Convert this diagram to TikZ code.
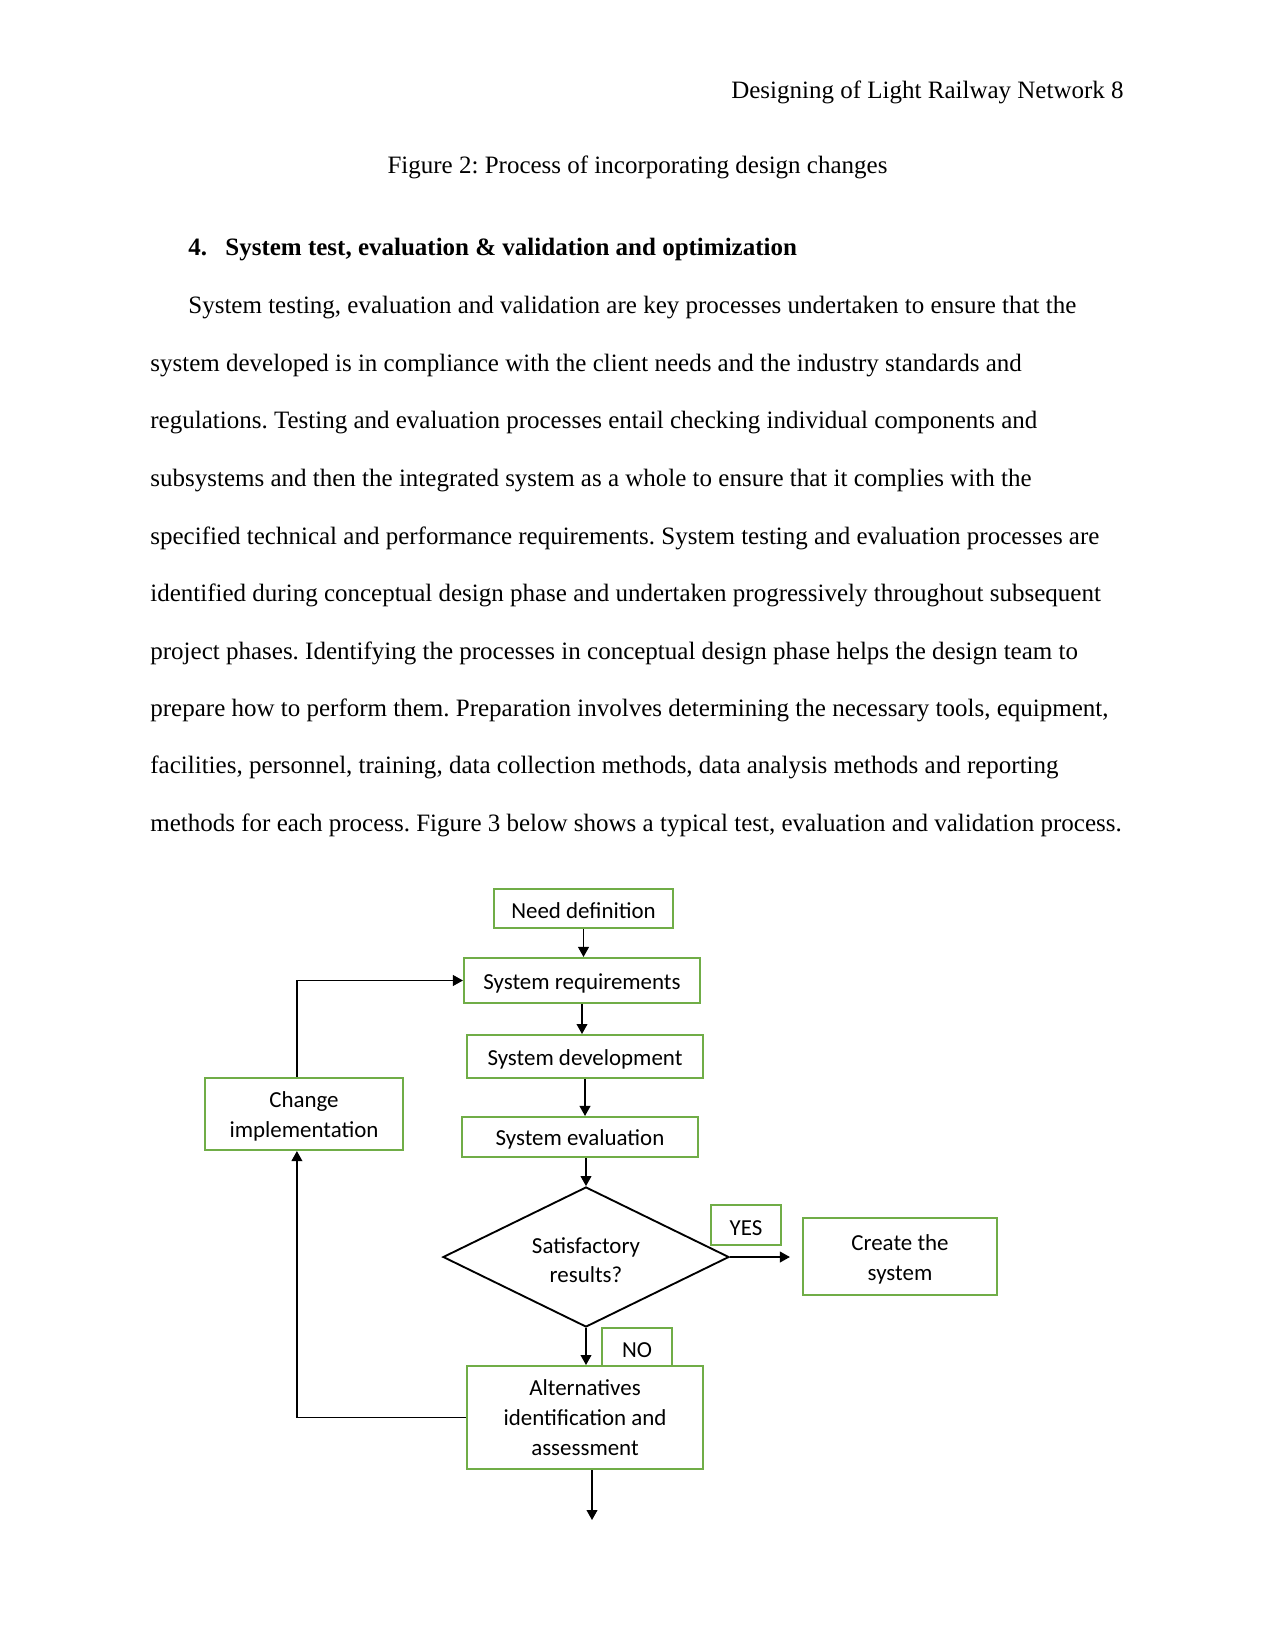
\documentclass[tikz,border=0pt]{standalone}
\usepackage{fontspec}
\setmainfont{Liberation Serif}
\newfontfamily\carlito{Carlito}
\usetikzlibrary{shapes.geometric,arrows.meta}
\definecolor{boxgreen}{HTML}{70AD47}
\frenchspacing
\begin{document}
\begin{tikzpicture}[x=0.48pt,y=-0.48pt,
  txt/.style={anchor=base west,inner sep=0pt,font=\fontsize{12}{14}\selectfont},
  gbox/.style={draw=boxgreen,line width=1pt,inner sep=0pt,align=center,
    font=\carlito\fontsize{11}{14.5}\selectfont,
    execute at begin node={\rule{0pt}{10pt}}},
  twoline/.style={text height=25.7pt,text depth=2.8pt},
  decis/.style={diamond,draw=black,line width=0.9pt,inner sep=0pt,shape aspect=2,
    align=center,font=\carlito\fontsize{11}{14}\selectfont,
    text height=24.2pt,text depth=0pt},
  arr/.style={draw=black,line width=0.6pt,-{Triangle[length=4.8pt,width=5.2pt]}},
  ln/.style={draw=black,line width=0.6pt}]
\useasboundingbox[fill=white] (0,0) rectangle (1275,1650);

% header and text
\node[anchor=base east,inner sep=0pt,font=\fontsize{12}{14}\selectfont] (hdr) at (1124,99) {Designing of Light Railway Network 8};
\node[anchor=base,inner sep=0pt,font=\fontsize{12}{14}\selectfont] (cap) at (637.5,174) {Figure 2: Process of incorporating design changes};
\node[txt,font=\fontsize{12}{14}\selectfont\bfseries] (hnum) at (188,256) {4.};
\node[txt,font=\fontsize{12}{14}\selectfont\bfseries] (htxt) at (225,256) {System test, evaluation \& validation and optimization};

\node[txt] (l1) at (188,314) {System testing, evaluation and validation are key processes undertaken to ensure that the};
\node[txt] (l2) at (150,371.5) {system developed is in compliance with the client needs and the industry standards and};
\node[txt] (l3) at (150,429) {regulations. Testing and evaluation processes entail checking individual components and};
\node[txt] (l4) at (150,486.5) {subsystems and then the integrated system as a whole to ensure that it complies with the};
\node[txt] (l5) at (150,544) {specified technical and performance requirements. System testing and evaluation processes are};
\node[txt] (l6) at (150,601.5) {identified during conceptual design phase and undertaken progressively throughout subsequent};
\node[txt] (l7) at (150,659) {project phases. Identifying the processes in conceptual design phase helps the design team to};
\node[txt] (l8) at (150,716) {prepare how to perform them. Preparation involves determining the necessary tools, equipment,};
\node[txt] (l9) at (150,773.5) {facilities, personnel, training, data collection methods, data analysis methods and reporting};
\node[txt] (l10) at (150,831) {methods for each process. Figure 3 below shows a typical test, evaluation and validation process.};

% flowchart
\node[gbox,minimum width=85.9pt,minimum height=18.7pt] (need) at (583.5,908.5) {Need definition};
\node[gbox,minimum width=113.3pt,minimum height=21.6pt] (req) at (582,980.5) {System requirements};
\node[gbox,minimum width=113.3pt,minimum height=20.6pt] (dev) at (585,1056.5) {System development};
\node[gbox,minimum width=113.3pt,minimum height=19.2pt] (eval) at (580,1137) {System evaluation};
\node[gbox,twoline,minimum width=95pt,minimum height=34.6pt] (chg) at (304,1114) {Change\\implementation};
\node[decis,minimum width=137.3pt,minimum height=67.2pt] (dia) at (586,1257) {Satisfactory\\results?};
\node[gbox,minimum width=33.6pt,minimum height=19.2pt] (yes) at (746,1225) {YES};
\node[gbox,twoline,minimum width=93.1pt,minimum height=37pt] (create) at (900,1256.5) {Create the\\system};
\node[gbox,minimum width=113.3pt,minimum height=49.4pt] (alt) at (585,1417.5) {Alternatives\\identification and\\assessment};
\node[gbox,minimum width=33.6pt,minimum height=18.2pt] (no) at (637,1347) {NO};
\coordinate (endpt) at (592,1520);

\draw[arr] (need.south) -- (need.south |- req.north);
\draw[arr] (req.south) -- (req.south |- dev.north);
\draw[arr] (dev.south) -- (dev.south |- eval.north);
\draw[arr] (dia.north |- eval.south) -- (dia.north);
\draw[arr] (dia.south) -- (dia.south |- alt.north);
\draw[arr,shorten >=5.8pt] (dia.east) -- (dia.east -| create.west);
\draw[arr] (endpt |- alt.south) -- (endpt);
\draw[arr] (alt.west) -| ([xshift=-3.4pt]chg.south);
\draw[arr] ([xshift=-3.4pt]chg.north) |- (req.west);
\end{tikzpicture}
\end{document}
